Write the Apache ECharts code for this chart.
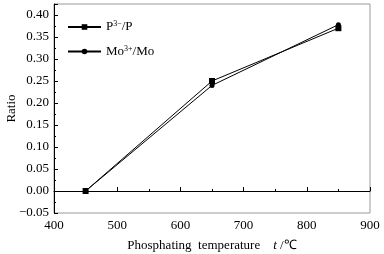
<!DOCTYPE html>
<html>
<head>
<meta charset="utf-8">
<script src="https://cdn.jsdelivr.net/npm/echarts@6/dist/echarts.min.js"></script>
<style>html,body{margin:0;padding:0;background:#fff}#c{width:384px;height:254px}</style>
</head>
<body>
<div id="c"></div>
<script>
const temps = [450, 650, 850];
const pRatio = [0.0, 0.25, 0.37];
const moRatio = [0.0, 0.24, 0.378];
const seriesNames = ["P3-/P", "Mo3+/Mo"];

const font = "Liberation Serif";
const chart = echarts.init(document.getElementById("c"));
const pair = vals => temps.map((t, i) => [t, vals[i]]);
const fmtY = v => (v < 0 ? "\u2212" : "") + Math.abs(v).toFixed(2);

chart.setOption({
  animation: false,
  textStyle: { fontFamily: font, color: "#000" },
  grid: { left: 54, right: 14, top: 4, bottom: 41, outerBoundsMode: "none", containLabel: false,
    show: true, borderColor: "#999", borderWidth: 1 },
  legend: {
    orient: "vertical", left: 62, top: 15, itemGap: 11, itemWidth: 33, itemHeight: 7,
    data: seriesNames,
    textStyle: {
      fontFamily: font, fontSize: 13, color: "#000",
      rich: { sup: { fontSize: 8, verticalAlign: "top", padding: [0, 0, 6, 0], fontFamily: font } }
    },
    formatter: n => n === "P3-/P" ? "P{sup|3\u2212}/P" : "Mo{sup|3+}/Mo"
  },
  xAxis: {
    type: "value", min: 400, max: 900, interval: 100,
    name: "Phosphating  temperature    {i|t} /\u2103", nameLocation: "middle", nameGap: 26,
    nameMoveOverlap: false,
    nameTextStyle: { fontFamily: font, fontSize: 13, color: "#000", rich: { i: { fontStyle: "italic", fontFamily: font, fontSize: 13 } } },
    axisLine: { lineStyle: { color: "#000" } },
    axisTick: { inside: true, length: 4, lineStyle: { color: "#000" } },
    minorTick: { show: true, splitNumber: 2, length: 2, lineStyle: { color: "#000" } },
    axisLabel: { fontFamily: font, fontSize: 13, color: "#000", margin: 6 },
    splitLine: { show: false }
  },
  yAxis: {
    type: "value", min: -0.05, max: 0.425, interval: 0.05,
    name: "Ratio", nameLocation: "middle", nameGap: 36,
    nameMoveOverlap: false,
    nameTextStyle: { fontFamily: font, fontSize: 13, color: "#000" },
    axisLine: { lineStyle: { color: "#000" } },
    axisTick: { inside: true, length: 4, lineStyle: { color: "#000" } },
    minorTick: { show: true, splitNumber: 2, length: 2, lineStyle: { color: "#000" } },
    axisLabel: { fontFamily: font, fontSize: 13, color: "#000", margin: 5, showMaxLabel: false, formatter: fmtY },
    splitLine: { show: false }
  },
  series: [
    { name: seriesNames[0], type: "line", data: pair(pRatio), symbol: "rect", symbolSize: 6,
      itemStyle: { color: "#000" }, lineStyle: { color: "#000", width: 1 } },
    { name: seriesNames[1], type: "line", data: pair(moRatio), symbol: "circle", symbolSize: 5,
      itemStyle: { color: "#000" }, lineStyle: { color: "#000", width: 1 } }
  ]
});
</script>
</body>
</html>
